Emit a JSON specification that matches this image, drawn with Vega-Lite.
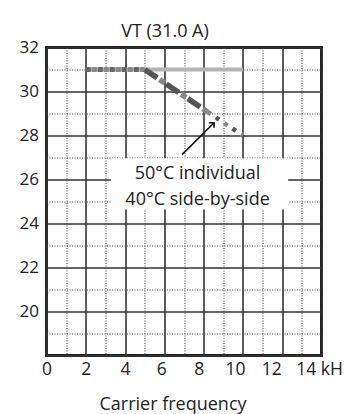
{
  "$schema": "https://vega.github.io/schema/vega-lite/v6.json",
  "autosize": {"type": "none"},
  "padding": {"left": 46.5, "top": 47.5, "right": 25.5, "bottom": 58.5},
  "width": 275,
  "height": 308,
  "background": "white",
  "config": {
    "font": "Open Sans",
    "view": {"stroke": "#222", "strokeWidth": 3},
    "axis": {"labelFont": "Open Sans", "titleFont": "Open Sans", "labelColor": "#222", "titleColor": "#222"}
  },
  "title": {"text": "VT (31.0 A)", "fontSize": 18, "fontWeight": "normal", "color": "#222", "anchor": "middle", "frame": "group", "dx": -19, "baseline": "alphabetic", "offset": -16},
  "datasets": {
    "curve": [
      {"series": "base", "x": 2, "y": 31},
      {"series": "base", "x": 10, "y": 31},
      {"series": "flat", "x": 2, "y": 31},
      {"series": "flat", "x": 5, "y": 31},
      {"series": "down", "x": 5, "y": 31},
      {"series": "down", "x": 8.2, "y": 29.07},
      {"series": "dots", "x": 8.2, "y": 29.07},
      {"series": "dots", "x": 10, "y": 28}
    ],
    "box": [{"x": 3.28, "x2": 12.3, "y": 26.97, "y2": 24.64}],
    "labels": [
      {"x": 7.69, "y": 26.27, "text": "50°C individual"},
      {"x": 7.69, "y": 25.07, "text": "40°C side-by-side"}
    ],
    "arrow": [{"x": 6.9, "y": 27.13, "x2": 8.53, "y2": 28.58}],
    "arrowhead": [{"x": 8.53, "y": 28.58}]
  },
  "encoding": {
    "x": {"field": "x", "type": "quantitative", "scale": {"domain": [0, 14], "nice": false, "zero": false},
      "axis": {
        "values": [0,1,2,3,4,5,6,7,8,9,10,11,12,13,14],
        "title": "Carrier frequency",
        "titleFontSize": 18, "titleFontWeight": "normal",
        "titleX": 126, "titleY": 54, "titleBaseline": "alphabetic",
        "labelFontSize": 17.5,
        "labelExpr": "datum.value % 2 ? '' : (datum.value == 14 ? '14 kH' : datum.label)",
        "labelOverlap": false,
        "labelPadding": 5,
        "labelFlush": false,
        "labelOffset": {"condition": [
          {"test": "datum.value == 6", "value": -3},
          {"test": "datum.value == 8", "value": -5},
          {"test": "datum.value == 10", "value": -8},
          {"test": "datum.value == 12", "value": -11},
          {"test": "datum.value == 14", "value": -2.5}
        ], "value": 0},
        "domain": false, "ticks": false,
        "grid": true,
        "gridColor": {"condition": {"test": "datum.value % 2 === 1", "value": "#444"}, "value": "#333"},
        "gridWidth": {"condition": {"test": "datum.value % 2 === 1", "value": 1}, "value": 1.6},
        "gridDash": {"condition": {"test": "datum.value % 2 === 1", "value": [1, 1.5]}, "value": []}
      }
    },
    "y": {"field": "y", "type": "quantitative", "scale": {"domain": [18, 32], "nice": false, "zero": false},
      "axis": {
        "values": [18,19,20,21,22,23,24,25,26,27,28,29,30,31,32],
        "title": null,
        "labelFontSize": 17,
        "labelExpr": "datum.value % 2 || datum.value == 18 ? '' : datum.label",
        "labelOverlap": false,
        "labelPadding": 8,
        "labelFlush": false,
        "domain": false, "ticks": false,
        "grid": true,
        "gridColor": {"condition": {"test": "datum.value % 2 === 1", "value": "#444"}, "value": "#333"},
        "gridWidth": {"condition": {"test": "datum.value % 2 === 1", "value": 1}, "value": 1.6},
        "gridDash": {"condition": {"test": "datum.value % 2 === 1", "value": [1, 1.5]}, "value": []}
      }
    }
  },
  "layer": [
    {
      "data": {"name": "box"},
      "mark": {"type": "rect", "fill": "white", "stroke": null},
      "encoding": {"x2": {"field": "x2"}, "y2": {"field": "y2"}}
    },
    {
      "data": {"name": "curve"},
      "transform": [{"filter": "datum.series === 'base'"}],
      "mark": {"type": "line", "color": "#b3b3b3", "strokeWidth": 4, "strokeCap": "butt"}
    },
    {
      "data": {"name": "curve"},
      "transform": [{"filter": "datum.series === 'flat'"}],
      "mark": {"type": "line", "color": "#666", "strokeWidth": 5, "strokeDash": [5, 7], "strokeCap": "butt"}
    },
    {
      "data": {"name": "curve"},
      "transform": [{"filter": "datum.series === 'flat'"}],
      "mark": {"type": "line", "color": "#888", "strokeWidth": 5, "strokeDash": [5, 7], "strokeDashOffset": -6, "strokeCap": "butt"}
    },
    {
      "data": {"name": "curve"},
      "transform": [{"filter": "datum.series === 'down'"}],
      "mark": {"type": "line", "color": "#555", "strokeWidth": 5.5, "strokeDash": [15, 11], "strokeCap": "butt"}
    },
    {
      "data": {"name": "curve"},
      "transform": [{"filter": "datum.series === 'down'"}],
      "mark": {"type": "line", "color": "#888", "strokeWidth": 5.5, "strokeDash": [6, 20], "strokeDashOffset": 8, "strokeCap": "butt"}
    },
    {
      "data": {"name": "curve"},
      "transform": [{"filter": "datum.series === 'dots'"}],
      "mark": {"type": "line", "color": "#888", "strokeWidth": 4.5, "strokeDash": [4, 16], "strokeDashOffset": 0, "strokeCap": "butt"}
    },
    {
      "data": {"name": "curve"},
      "transform": [{"filter": "datum.series === 'dots'"}],
      "mark": {"type": "line", "color": "#555", "strokeWidth": 4.5, "strokeDash": [4, 16], "strokeDashOffset": -10, "strokeCap": "butt"}
    },
    {
      "data": {"name": "arrow"},
      "mark": {"type": "rule", "color": "#111", "strokeWidth": 1.6},
      "encoding": {"x2": {"field": "x2"}, "y2": {"field": "y2"}}
    },
    {
      "data": {"name": "arrowhead"},
      "mark": {"type": "point", "shape": "M -0.7 0.7 L 0 0 L 0.7 0.7", "filled": false, "stroke": "#111", "strokeWidth": 1.6, "size": 100, "angle": 45, "opacity": 1}
    },
    {
      "data": {"name": "labels"},
      "mark": {"type": "text", "fontSize": 18, "color": "#222", "align": "center", "baseline": "middle", "font": "Open Sans"},
      "encoding": {"text": {"field": "text"}}
    }
  ]
}
